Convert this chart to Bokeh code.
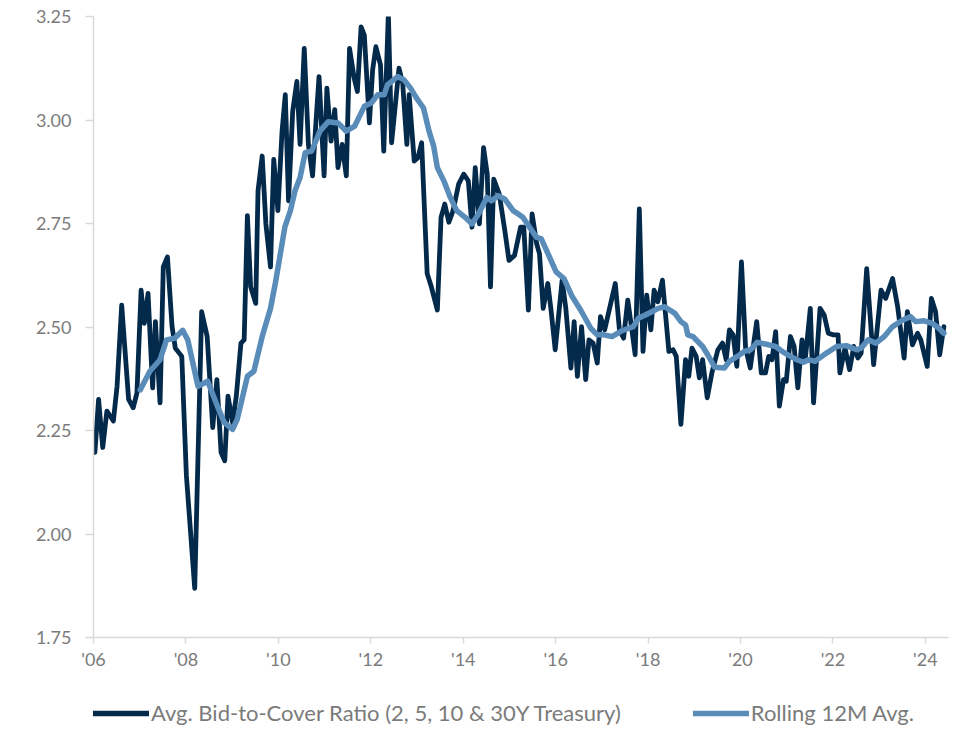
from bokeh.plotting import figure
from bokeh.models import FixedTicker, NumeralTickFormatter, Legend, LegendItem, Range1d
from bokeh.layouts import column
from bokeh.embed import file_html
from bokeh.resources import INLINE

# Avg. Bid-to-Cover Ratio (decimal year, value)
btc_date = [2006.03, 2006.11, 2006.20, 2006.29, 2006.43, 2006.51, 2006.61, 2006.76, 2006.86, 2006.94,
            2007.03, 2007.10, 2007.18, 2007.28, 2007.34, 2007.39, 2007.44, 2007.51, 2007.60, 2007.70,
            2007.77, 2007.91, 2008.01, 2008.19, 2008.34, 2008.46, 2008.58, 2008.67, 2008.76, 2008.84,
            2008.91, 2009.01, 2009.09, 2009.19, 2009.26, 2009.33, 2009.40, 2009.51, 2009.56, 2009.65,
            2009.73, 2009.83, 2009.90, 2009.99, 2010.08, 2010.15, 2010.22, 2010.31, 2010.40, 2010.47,
            2010.56, 2010.65, 2010.74, 2010.81, 2010.88, 2010.99, 2011.05, 2011.14, 2011.22, 2011.29,
            2011.38, 2011.47, 2011.54, 2011.64, 2011.71, 2011.79, 2011.86, 2011.97, 2012.04, 2012.11,
            2012.21, 2012.28, 2012.38, 2012.45, 2012.61, 2012.69, 2012.78, 2012.83, 2012.94, 2013.02,
            2013.10, 2013.22, 2013.31, 2013.44, 2013.52, 2013.60, 2013.69, 2013.78, 2013.90, 2014.01,
            2014.11, 2014.19, 2014.26, 2014.35, 2014.44, 2014.52, 2014.59, 2014.66, 2014.78, 2014.90,
            2014.99, 2015.11, 2015.24, 2015.31, 2015.41, 2015.49, 2015.59, 2015.65, 2015.73, 2015.83,
            2015.90, 2015.99, 2016.14, 2016.22, 2016.33, 2016.40, 2016.47, 2016.56, 2016.65, 2016.72,
            2016.81, 2016.90, 2016.97, 2017.06, 2017.29, 2017.38, 2017.47, 2017.56, 2017.63, 2017.72,
            2017.81, 2017.89, 2017.97, 2018.06, 2018.13, 2018.21, 2018.31, 2018.45, 2018.54, 2018.61,
            2018.71, 2018.81, 2018.88, 2018.95, 2019.04, 2019.11, 2019.18, 2019.28, 2019.38, 2019.51,
            2019.61, 2019.69, 2019.76, 2019.84, 2019.92, 2020.02, 2020.11, 2020.21, 2020.35, 2020.45,
            2020.54, 2020.61, 2020.68, 2020.76, 2020.84, 2020.93, 2020.99, 2021.08, 2021.16, 2021.24,
            2021.33, 2021.40, 2021.51, 2021.58, 2021.72, 2021.81, 2021.90, 2022.01, 2022.11, 2022.15,
            2022.26, 2022.36, 2022.45, 2022.54, 2022.61, 2022.73, 2022.88, 2023.04, 2023.14, 2023.29,
            2023.40, 2023.54, 2023.61, 2023.72, 2023.83, 2023.90, 2024.04, 2024.13, 2024.22, 2024.31,
            2024.40]
btc_value = [2.197, 2.325, 2.209, 2.297, 2.273, 2.357, 2.553, 2.325, 2.305, 2.341,
             2.589, 2.509, 2.581, 2.353, 2.513, 2.413, 2.317, 2.645, 2.669, 2.501,
             2.449, 2.429, 2.141, 1.869, 2.537, 2.477, 2.257, 2.373, 2.197, 2.177,
             2.333, 2.269, 2.333, 2.461, 2.469, 2.769, 2.597, 2.557, 2.829, 2.913,
             2.749, 2.645, 2.905, 2.781, 2.973, 3.061, 2.805, 3.021, 3.093, 2.941,
             3.173, 2.941, 2.865, 2.989, 3.105, 2.865, 3.077, 2.949, 3.025, 2.885,
             2.941, 2.865, 3.173, 3.101, 3.069, 3.225, 3.205, 2.993, 3.121, 3.177,
             3.133, 2.925, 3.258, 2.945, 3.125, 3.089, 2.941, 3.061, 2.901, 2.909,
             2.945, 2.629, 2.597, 2.541, 2.765, 2.797, 2.753, 2.781, 2.845, 2.869,
             2.853, 2.741, 2.885, 2.749, 2.933, 2.869, 2.597, 2.857, 2.821, 2.733,
             2.661, 2.673, 2.741, 2.741, 2.541, 2.773, 2.701, 2.677, 2.545, 2.605,
             2.541, 2.445, 2.613, 2.545, 2.401, 2.513, 2.381, 2.501, 2.373, 2.469,
             2.461, 2.413, 2.525, 2.493, 2.605, 2.493, 2.473, 2.565, 2.509, 2.433,
             2.785, 2.441, 2.577, 2.493, 2.589, 2.561, 2.613, 2.441, 2.445, 2.429,
             2.265, 2.421, 2.381, 2.449, 2.429, 2.377, 2.421, 2.329, 2.389, 2.445,
             2.461, 2.421, 2.493, 2.481, 2.405, 2.657, 2.449, 2.401, 2.513, 2.389,
             2.389, 2.429, 2.421, 2.489, 2.309, 2.373, 2.369, 2.477, 2.453, 2.353,
             2.469, 2.421, 2.545, 2.317, 2.545, 2.529, 2.485, 2.481, 2.481, 2.389,
             2.449, 2.397, 2.453, 2.425, 2.437, 2.641, 2.409, 2.589, 2.569, 2.617,
             2.549, 2.425, 2.537, 2.457, 2.485, 2.469, 2.405, 2.569, 2.537, 2.433,
             2.501]

# Rolling 12M average (decimal year, value)
roll_date = [2007.01, 2007.22, 2007.44, 2007.58, 2007.76, 2007.93, 2008.04, 2008.26, 2008.47, 2008.68,
             2008.83, 2009.01, 2009.11, 2009.33, 2009.47, 2009.65, 2009.83, 2009.94, 2010.14, 2010.26,
             2010.36, 2010.47, 2010.58, 2010.72, 2010.90, 2011.08, 2011.29, 2011.47, 2011.65, 2011.86,
             2012.01, 2012.15, 2012.29, 2012.36, 2012.58, 2012.72, 2012.86, 2012.99, 2013.14, 2013.26,
             2013.36, 2013.44, 2013.58, 2013.72, 2013.86, 2014.04, 2014.19, 2014.33, 2014.51, 2014.61,
             2014.76, 2014.90, 2015.08, 2015.19, 2015.29, 2015.58, 2015.69, 2016.01, 2016.18, 2016.36,
             2016.54, 2016.76, 2016.90, 2017.04, 2017.22, 2017.40, 2017.58, 2017.68, 2017.79, 2017.94,
             2018.08, 2018.22, 2018.36, 2018.58, 2018.71, 2018.81, 2018.86, 2018.97, 2019.18, 2019.29,
             2019.44, 2019.65, 2019.76, 2019.93, 2020.08, 2020.22, 2020.36, 2020.61, 2020.76, 2020.90,
             2021.08, 2021.22, 2021.36, 2021.47, 2021.61, 2021.86, 2022.08, 2022.29, 2022.51, 2022.61,
             2022.76, 2022.93, 2023.11, 2023.29, 2023.51, 2023.68, 2023.79, 2023.97, 2024.15, 2024.29,
             2024.40]
roll_value = [2.348, 2.393, 2.421, 2.469, 2.473, 2.492, 2.469, 2.357, 2.369, 2.309,
              2.269, 2.253, 2.277, 2.381, 2.393, 2.477, 2.545, 2.609, 2.741, 2.781,
              2.829, 2.861, 2.921, 2.925, 2.973, 2.996, 2.993, 2.973, 2.985, 3.033,
              3.041, 3.061, 3.061, 3.085, 3.105, 3.097, 3.077, 3.053, 3.029, 2.973,
              2.937, 2.885, 2.853, 2.813, 2.781, 2.765, 2.749, 2.773, 2.813, 2.805,
              2.817, 2.809, 2.781, 2.773, 2.765, 2.717, 2.713, 2.633, 2.617, 2.573,
              2.541, 2.497, 2.481, 2.481, 2.477, 2.489, 2.497, 2.501, 2.521, 2.529,
              2.537, 2.545, 2.549, 2.533, 2.513, 2.505, 2.481, 2.477, 2.453, 2.433,
              2.403, 2.401, 2.417, 2.429, 2.441, 2.445, 2.463, 2.457, 2.453, 2.441,
              2.429, 2.421, 2.415, 2.421, 2.417, 2.437, 2.453, 2.455, 2.445, 2.449,
              2.469, 2.461, 2.477, 2.501, 2.517, 2.525, 2.513, 2.515, 2.509, 2.497,
              2.485]

x_ticks = [2006, 2008, 2010, 2012, 2014, 2016, 2018, 2020, 2022, 2024]
x_tick_labels = ["'06", "'08", "'10", "'12", "'14", "'16", "'18", "'20", "'22", "'24"]
y_ticks = [1.75, 2.00, 2.25, 2.50, 2.75, 3.00, 3.25]

series_names = ["Avg. Bid-to-Cover Ratio (2, 5, 10 & 30Y Treasury)", "Rolling 12M Avg."]

DARK = "#03294b"
LIGHT = "#5a8cba"
GRAY_TEXT = "#7b7b7b"
AXIS_GRAY = "#d9d9d9"
FONT = "Lato"

p = figure(width=951, height=672, output_backend="svg", toolbar_location=None,
           x_range=Range1d(2006, 2024.5), y_range=Range1d(1.75, 3.25),
           min_border_left=93, min_border_right=3, min_border_top=16, min_border_bottom=34)
p.outline_line_color = None
p.xgrid.visible = False
p.ygrid.visible = False

r1 = p.line(btc_date, btc_value, line_color=DARK, line_width=4.8, line_join="round", line_cap="round")
r2 = p.line(roll_date, roll_value, line_color=LIGHT, line_width=5.5, line_join="round", line_cap="round")

p.xaxis.ticker = FixedTicker(ticks=x_ticks)
p.xaxis.major_label_overrides = {t: l for t, l in zip(x_ticks, x_tick_labels)}
p.yaxis.ticker = FixedTicker(ticks=y_ticks)
p.yaxis.formatter = NumeralTickFormatter(format="0.00")

for ax in (p.xaxis, p.yaxis):
    ax.axis_line_color = AXIS_GRAY
    ax.axis_line_width = 1.5
    ax.major_tick_line_color = AXIS_GRAY
    ax.major_tick_line_width = 1.5
    ax.major_tick_in = 0
    ax.minor_tick_line_color = None
    ax.major_label_text_color = GRAY_TEXT
    ax.major_label_text_font = FONT
    ax.major_label_text_font_size = "18px"

p.yaxis.major_tick_out = 8
p.yaxis.major_label_standoff = 14
p.xaxis.major_tick_out = 6
p.xaxis.major_label_standoff = 4

# legend strip below the chart
lg = figure(width=951, height=54, output_backend="svg", toolbar_location=None,
            x_range=Range1d(0, 1), y_range=Range1d(0, 1),
            min_border_left=88, min_border_right=0, min_border_top=0, min_border_bottom=0)
lg.outline_line_color = None
lg.axis.visible = False
lg.grid.visible = False
l1 = lg.line(x=[-2, -1], y=[-2, -2], line_color=DARK, line_width=5.5, line_cap="round")
l2 = lg.line(x=[-2, -1], y=[-2, -2], line_color=LIGHT, line_width=5.5, line_cap="round")
legend = Legend(items=[LegendItem(label=series_names[0], renderers=[l1]),
                       LegendItem(label=series_names[1], renderers=[l2])],
                orientation="horizontal", location="bottom_left",
                margin=0, padding=0, spacing=72,
                glyph_width=56, glyph_height=24, label_standoff=2,
                label_text_font=FONT, label_text_font_size="22px",
                label_text_color=GRAY_TEXT,
                border_line_color=None, background_fill_alpha=0)
lg.add_layout(legend, "center")

open("out.html", "w").write(file_html(column(p, lg, spacing=0), INLINE))
